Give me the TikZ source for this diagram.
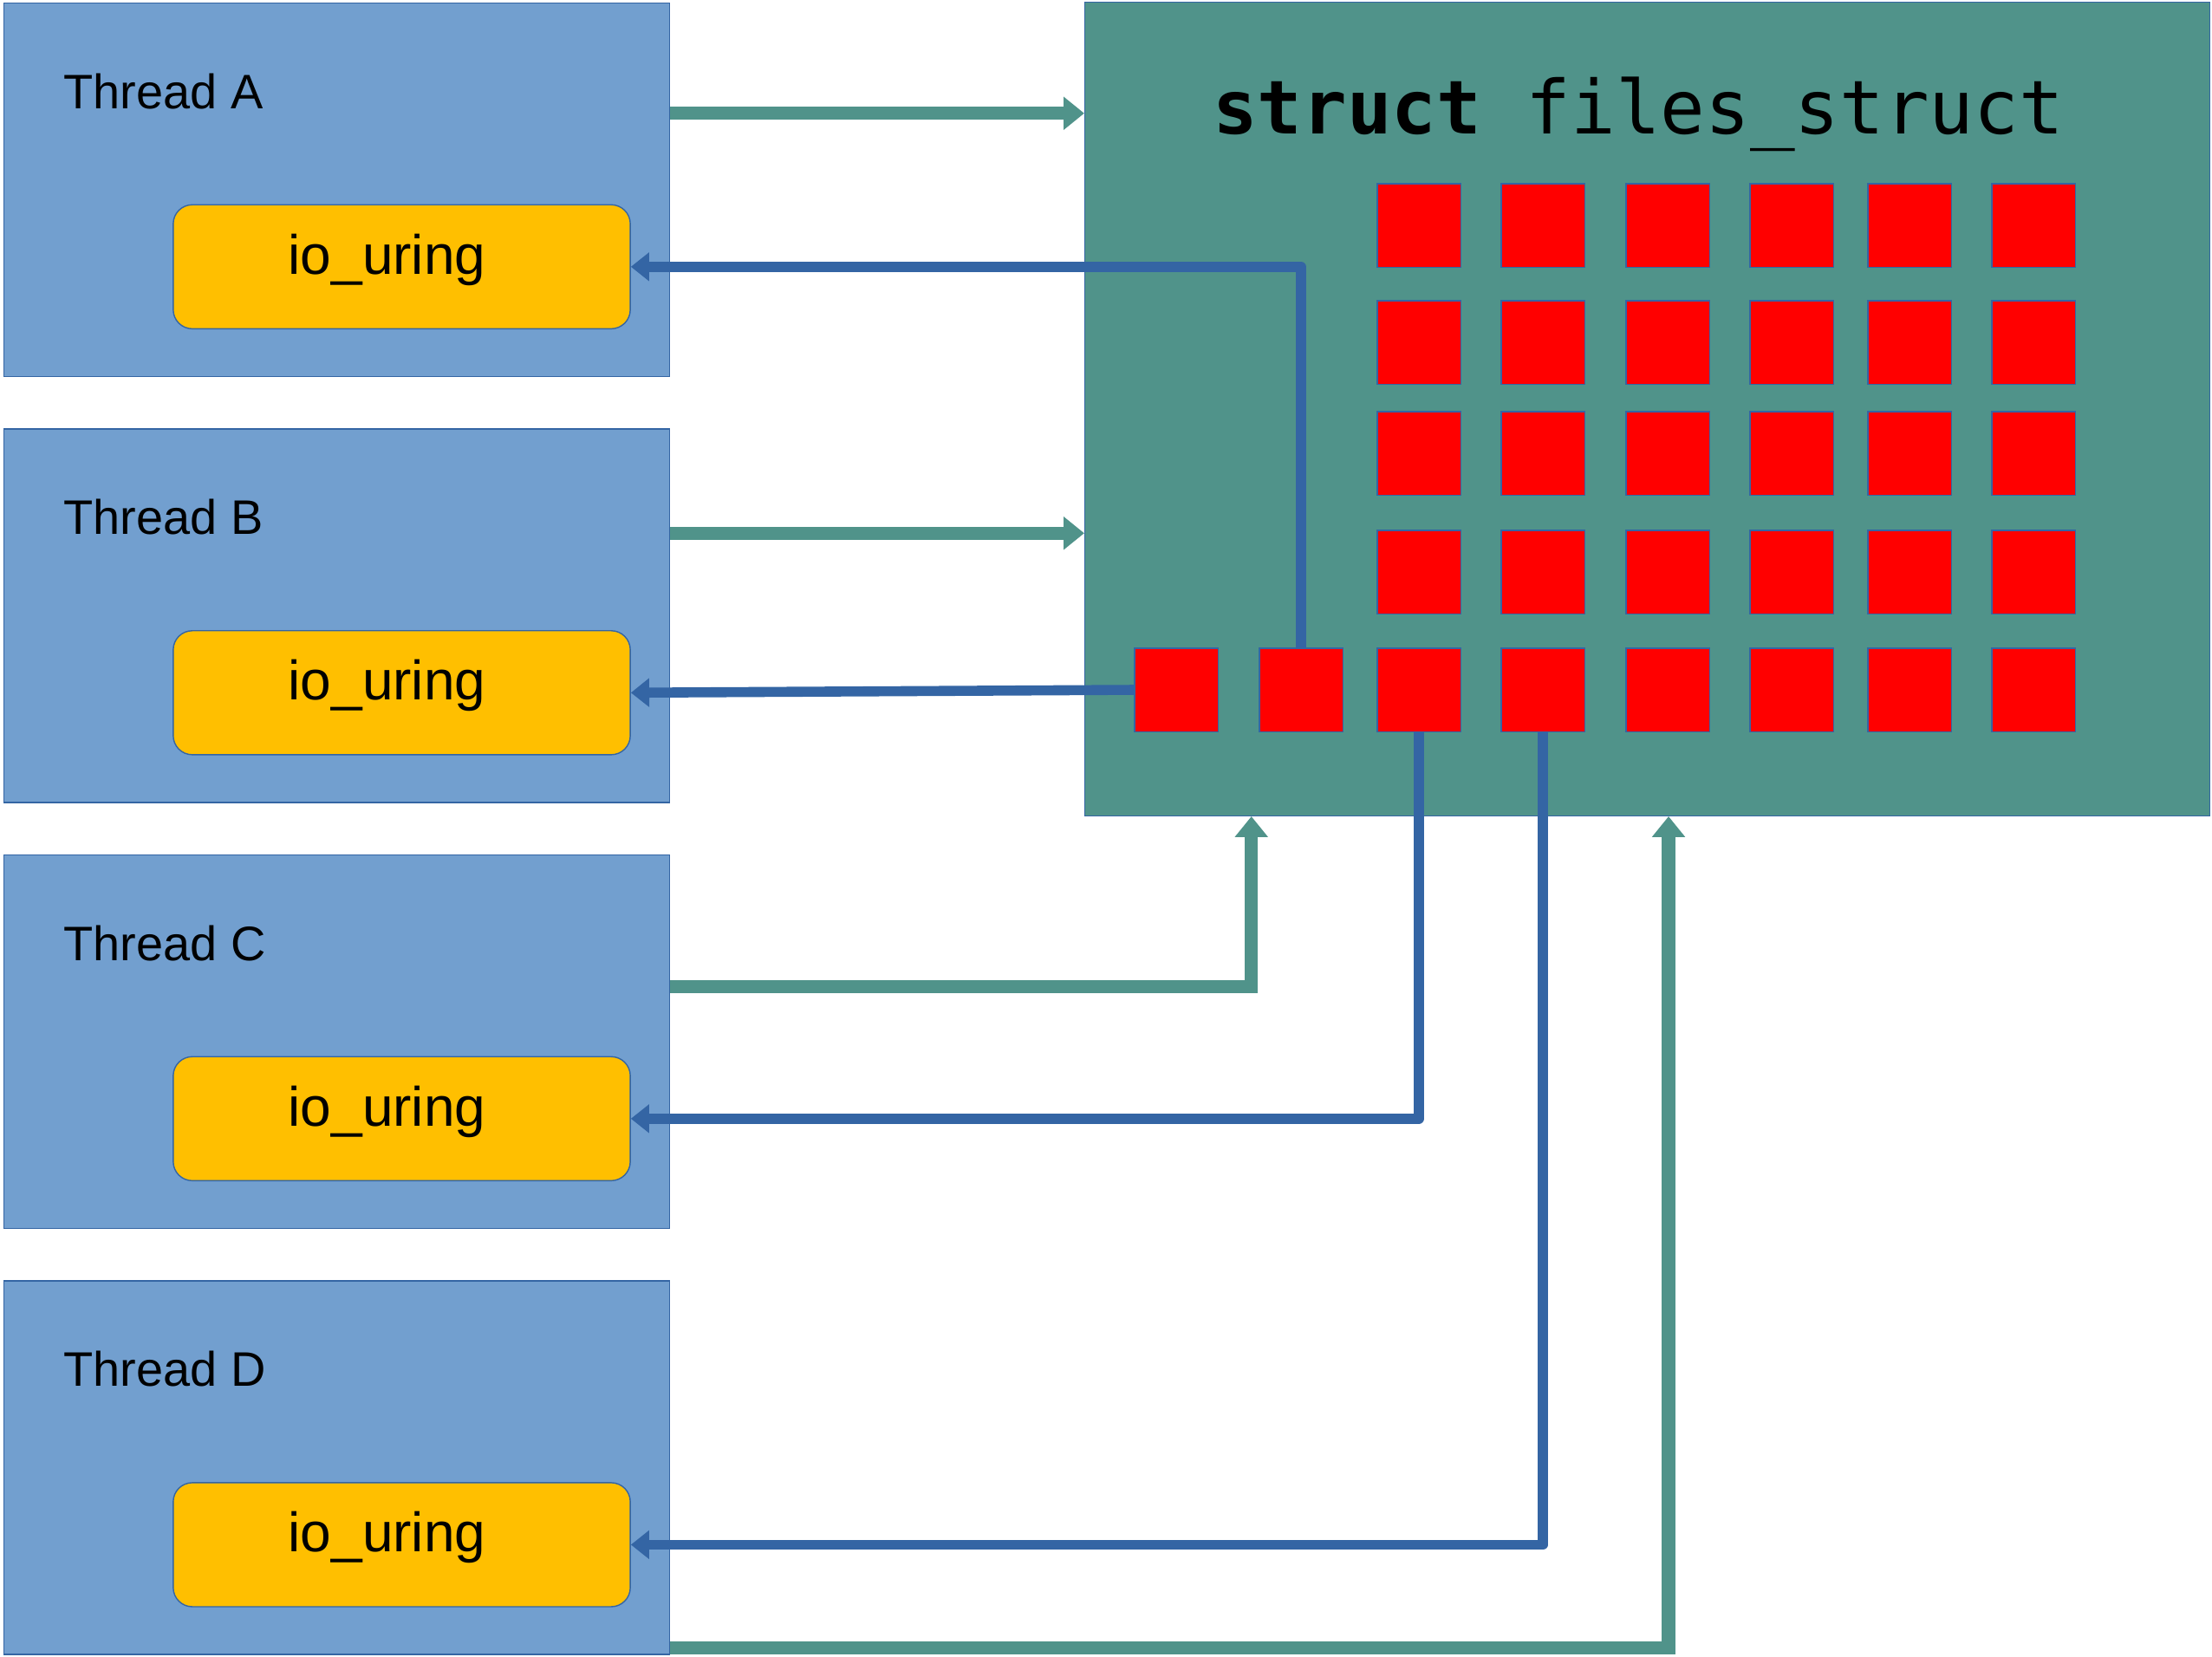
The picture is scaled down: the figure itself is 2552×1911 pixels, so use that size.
\documentclass[tikz,border=0pt]{standalone}
\usepackage{fontspec}
\setmainfont{Liberation Sans}
\newfontfamily\codefont{DejaVu Sans Mono}
\usetikzlibrary{arrows.meta, positioning, calc}
\definecolor{threadfill}{HTML}{729FCF}
\definecolor{threadstroke}{HTML}{3465A4}
\definecolor{ringfill}{HTML}{FFBF00}
\definecolor{filesfill}{HTML}{50938A}
\definecolor{fdfill}{HTML}{FF0000}
\definecolor{lookupline}{HTML}{3465A4}

\begin{document}
\begin{tikzpicture}[
    x=0.01cm, y=-0.01cm,
    thread/.style={
        rectangle,
        minimum width=7.67cm,
        minimum height=4.31cm,
        draw=threadstroke,
        line width=0.4pt,
        fill=threadfill,
        inner sep=0pt,
    },
    threadlabel/.style={
        anchor=base west,
        inner sep=0pt,
        font=\fontsize{15.9}{19}\selectfont,
    },
    ring/.style={
        rectangle,
        rounded corners=0.22cm,
        minimum width=5.27cm,
        minimum height=1.43cm,
        draw=threadstroke,
        line width=0.4pt,
        fill=ringfill,
        inner sep=0pt,
        text height=0.3cm,
        text depth=0.136cm,
        font=\fontsize{18.2}{22}\selectfont,
    },
    files/.style={
        rectangle,
        minimum width=12.97cm,
        minimum height=9.38cm,
        draw=threadstroke,
        line width=0.4pt,
        fill=filesfill,
        inner sep=0pt,
    },
    fd/.style={
        rectangle,
        minimum size=0.96cm,
        draw=threadstroke,
        line width=0.3pt,
        fill=fdfill,
        inner sep=0pt,
    },
    submit/.style={
        filesfill,
        line width=4.3pt,
        -{Triangle[length=6.8pt, width=10.5pt]},
    },
    lookup/.style={
        lookupline,
        line width=3.3pt,
        line join=round,
        -{Triangle[length=6pt, width=9.1pt]},
    },
]

\useasboundingbox (0,0) rectangle (2552,1911);

% Threads
\node[thread] (threadA) at (388.5,219) {};
\node[thread] (threadB) at (388.5,710.5) {};
\node[thread] (threadC) at (388.5,1202) {};
\node[thread] (threadD) at (388.5,1693.5) {};

\node[threadlabel] (labelA) at (73,125) {Thread A};
\node[threadlabel] (labelB) at (73,616.5) {Thread B};
\node[threadlabel] (labelC) at (73,1108) {Thread C};
\node[threadlabel] (labelD) at (73,1599.5) {Thread D};

% io_uring instances
\node[ring] (ringA) at (463.5,307.8) {\hspace*{-0.34cm}io\_uring};
\node[ring] (ringB) at (463.5,799.3) {\hspace*{-0.34cm}io\_uring};
\node[ring] (ringC) at (463.5,1290.8) {\hspace*{-0.34cm}io\_uring};
\node[ring] (ringD) at (463.5,1782.4) {\hspace*{-0.34cm}io\_uring};

% Shared file table
\node[files] (files) at (1900.5,472) {};
\node[anchor=base, inner sep=0pt, font=\codefont\fontsize{24.4}{28}\selectfont] (filestitle) at (1890,154) {\textbf{struct} files\_struct};

\foreach \r/\y in {1/260, 2/395, 3/523, 4/660} {
    \foreach \c/\x in {1/1637, 2/1780, 3/1924, 4/2067, 5/2203, 6/2346} {
        \node[fd] (slot\r\c) at (\x,\y) {};
    }
}
\foreach \c/\x in {1/1357, 2/1501, 3/1637, 4/1780, 5/1924, 6/2067, 7/2203, 8/2346} {
    \node[fd] (fd\c) at (\x,796) {};
}

% Threads sharing the table
\coordinate (outA) at ([yshift=-1.28cm]threadA.north east);
\coordinate (outB) at ([yshift=-1.21cm]threadB.north east);
\coordinate (outC) at ([yshift=-1.53cm]threadC.north east);
\coordinate (outD) at ([yshift=0.08cm]threadD.south east);

\draw[submit] (outA) -- (outA -| files.west);
\draw[submit] (outB) -- (outB -| files.west);
\draw[submit] (outC) -| ([xshift=-4.565cm]files.south);
\draw[submit] (outD) -| ([xshift=0.245cm]files.south);

% Lookups back into each ring
\draw[lookup] (fd2.north) |- (ringA.east);
\draw[lookup] (fd1.west) -- (ringB.east);
\draw[lookup] (fd3.south) |- (ringC.east);
\draw[lookup] (fd4.south) |- (ringD.east);

\end{tikzpicture}
\end{document}
